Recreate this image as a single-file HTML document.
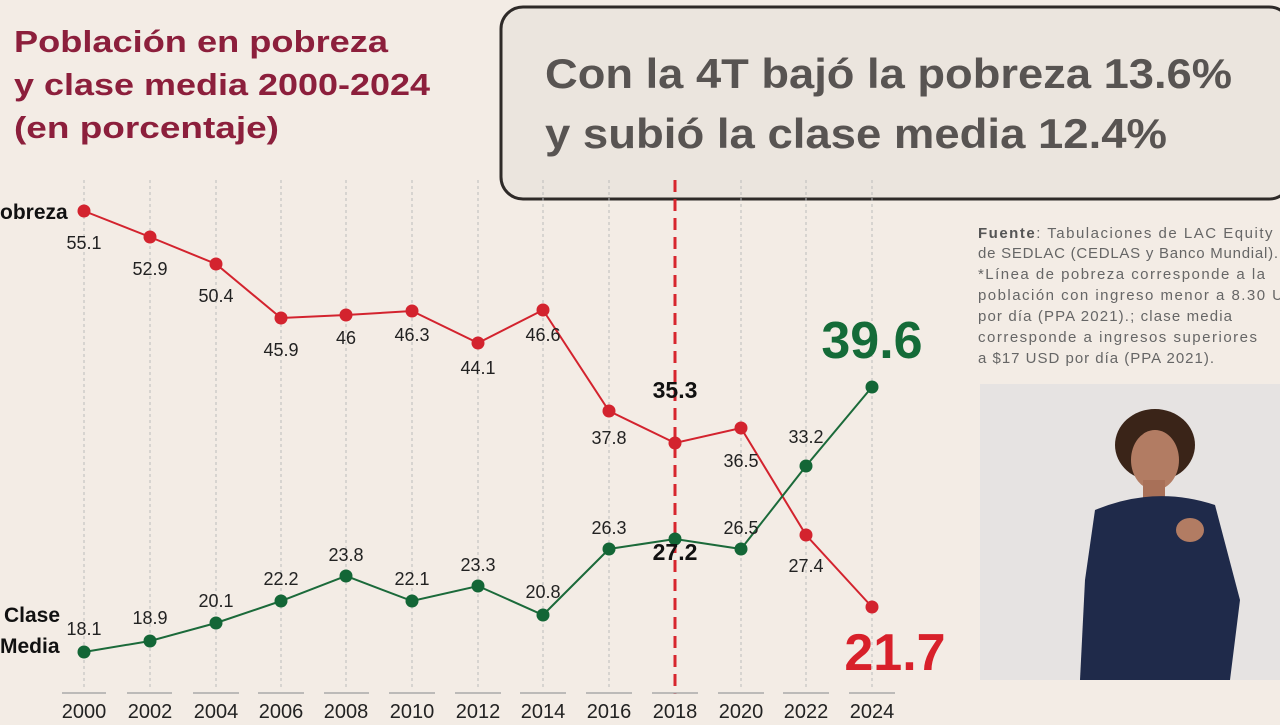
<!DOCTYPE html>
<html><head><meta charset="utf-8"><style>
body{margin:0;width:1280px;height:720px;overflow:hidden;background:#f3ece5;font-family:"Liberation Sans",sans-serif}
</style></head><body>
<svg width="1280" height="720" xmlns="http://www.w3.org/2000/svg" font-family="Liberation Sans, sans-serif">
<rect width="1280" height="720" fill="#f3ece5"/>
<g fill="#8c1f3c" font-weight="bold" font-size="31">
<text x="14" y="52" textLength="374" lengthAdjust="spacingAndGlyphs">Población en pobreza</text>
<text x="14" y="95" textLength="416" lengthAdjust="spacingAndGlyphs">y clase media 2000-2024</text>
<text x="14" y="138" textLength="265" lengthAdjust="spacingAndGlyphs">(en porcentaje)</text>
</g>
<rect x="501" y="7" width="790" height="192" rx="22" fill="#ebe5de" stroke="#2e2a28" stroke-width="3"/>
<g fill="#585452" font-weight="bold" font-size="42">
<text x="545" y="88" textLength="687" lengthAdjust="spacingAndGlyphs">Con la 4T bajó la pobreza 13.6%</text>
<text x="545" y="148" textLength="622" lengthAdjust="spacingAndGlyphs">y subió la clase media 12.4%</text>
</g>
<g fill="#666" font-size="15" lengthAdjust="spacingAndGlyphs">
<text x="978" y="238" textLength="310"><tspan font-weight="bold" fill="#555">Fuente</tspan>: Tabulaciones de LAC Equity L</text>
<text x="978" y="258" textLength="300">de SEDLAC (CEDLAS y Banco Mundial).</text>
<text x="978" y="279" textLength="287">*Línea de pobreza corresponde a la</text>
<text x="978" y="300" textLength="305">población con ingreso menor a 8.30 U</text>
<text x="978" y="321" textLength="254">por día (PPA 2021).; clase media</text>
<text x="978" y="342" textLength="279">corresponde a ingresos superiores</text>
<text x="978" y="363" textLength="236">a $17 USD por día (PPA 2021).</text>
</g>
<rect x="980" y="384" width="300" height="296" fill="#e6e3e2"/>
<ellipse cx="1155" cy="445" rx="40" ry="36" fill="#3a2418"/>
<ellipse cx="1155" cy="460" rx="24" ry="30" fill="#b27c63"/>
<rect x="1143" y="480" width="22" height="20" fill="#a87058"/>
<path d="M1095 510 Q1155 485 1215 505 L1240 600 L1230 680 L1080 680 L1085 580 Z" fill="#1f2a4a"/>
<ellipse cx="1190" cy="530" rx="14" ry="12" fill="#b27c63"/>
<g stroke="#bbb" stroke-dasharray="3,3" stroke-width="1">
<line x1="84" y1="180" x2="84" y2="690"/><line x1="150" y1="180" x2="150" y2="690"/><line x1="216" y1="180" x2="216" y2="690"/><line x1="281" y1="180" x2="281" y2="690"/><line x1="346" y1="180" x2="346" y2="690"/><line x1="412" y1="180" x2="412" y2="690"/><line x1="478" y1="180" x2="478" y2="690"/><line x1="543" y1="180" x2="543" y2="690"/><line x1="609" y1="180" x2="609" y2="690"/><line x1="741" y1="180" x2="741" y2="690"/><line x1="806" y1="180" x2="806" y2="690"/><line x1="872" y1="180" x2="872" y2="690"/>
</g>
<line x1="675" y1="180" x2="675" y2="694" stroke="#d7262e" stroke-width="3" stroke-dasharray="12,7"/>
<g stroke="#aaa" stroke-width="1.5">
<line x1="62" y1="693" x2="106" y2="693"/><line x1="127" y1="693" x2="172" y2="693"/><line x1="193" y1="693" x2="239" y2="693"/><line x1="258" y1="693" x2="304" y2="693"/><line x1="324" y1="693" x2="369" y2="693"/><line x1="389" y1="693" x2="435" y2="693"/><line x1="455" y1="693" x2="501" y2="693"/><line x1="520" y1="693" x2="566" y2="693"/><line x1="586" y1="693" x2="632" y2="693"/><line x1="652" y1="693" x2="698" y2="693"/><line x1="718" y1="693" x2="764" y2="693"/><line x1="783" y1="693" x2="829" y2="693"/><line x1="849" y1="693" x2="895" y2="693"/>
</g>
<g font-size="20" fill="#222" text-anchor="middle">
<text x="84" y="718">2000</text><text x="150" y="718">2002</text><text x="216" y="718">2004</text><text x="281" y="718">2006</text><text x="346" y="718">2008</text><text x="412" y="718">2010</text><text x="478" y="718">2012</text><text x="543" y="718">2014</text><text x="609" y="718">2016</text><text x="675" y="718">2018</text><text x="741" y="718">2020</text><text x="806" y="718">2022</text><text x="872" y="718">2024</text>
</g>
<polyline fill="none" stroke="#d3232e" stroke-width="2" points="84,211 150,237 216,264 281,318 346,315 412,311 478,343 543,310 609,411 675,443 741,428 806,535 872,607"/>
<g fill="#d3232e">
<circle cx="84" cy="211" r="6.5"/><circle cx="150" cy="237" r="6.5"/><circle cx="216" cy="264" r="6.5"/><circle cx="281" cy="318" r="6.5"/><circle cx="346" cy="315" r="6.5"/><circle cx="412" cy="311" r="6.5"/><circle cx="478" cy="343" r="6.5"/><circle cx="543" cy="310" r="6.5"/><circle cx="609" cy="411" r="6.5"/><circle cx="675" cy="443" r="6.5"/><circle cx="741" cy="428" r="6.5"/><circle cx="806" cy="535" r="6.5"/><circle cx="872" cy="607" r="6.5"/>
</g>
<polyline fill="none" stroke="#1b6a3a" stroke-width="2" points="84,652 150,641 216,623 281,601 346,576 412,601 478,586 543,615 609,549 675,539 741,549 806,466 872,387"/>
<g fill="#136636">
<circle cx="84" cy="652" r="6.5"/><circle cx="150" cy="641" r="6.5"/><circle cx="216" cy="623" r="6.5"/><circle cx="281" cy="601" r="6.5"/><circle cx="346" cy="576" r="6.5"/><circle cx="412" cy="601" r="6.5"/><circle cx="478" cy="586" r="6.5"/><circle cx="543" cy="615" r="6.5"/><circle cx="609" cy="549" r="6.5"/><circle cx="675" cy="539" r="6.5"/><circle cx="741" cy="549" r="6.5"/><circle cx="806" cy="466" r="6.5"/><circle cx="872" cy="387" r="6.5"/>
</g>
<g font-size="18" fill="#222" text-anchor="middle">
<text x="84" y="249">55.1</text><text x="150" y="275">52.9</text><text x="216" y="302">50.4</text><text x="281" y="356">45.9</text><text x="346" y="344">46</text><text x="412" y="341">46.3</text><text x="478" y="374">44.1</text><text x="543" y="341">46.6</text><text x="609" y="444">37.8</text><text x="741" y="467">36.5</text><text x="806" y="572">27.4</text>
<text x="84" y="635">18.1</text><text x="150" y="624">18.9</text><text x="216" y="607">20.1</text><text x="281" y="585">22.2</text><text x="346" y="561">23.8</text><text x="412" y="585">22.1</text><text x="478" y="571">23.3</text><text x="543" y="598">20.8</text><text x="609" y="534">26.3</text><text x="741" y="534">26.5</text><text x="806" y="443">33.2</text>
</g>
<g font-weight="bold" text-anchor="middle">
<text x="675" y="398" font-size="23" fill="#111">35.3</text>
<text x="675" y="560" font-size="23" fill="#111">27.2</text>
<text x="872" y="358" font-size="52" fill="#146b38">39.6</text>
<text x="895" y="670" font-size="52" fill="#d8202a">21.7</text>
</g>
<g font-weight="bold" font-size="21" fill="#111">
<text x="0" y="219">obreza</text>
<text x="4" y="622">Clase</text>
<text x="0" y="653">Media</text>
</g>
</svg>
</body></html>
